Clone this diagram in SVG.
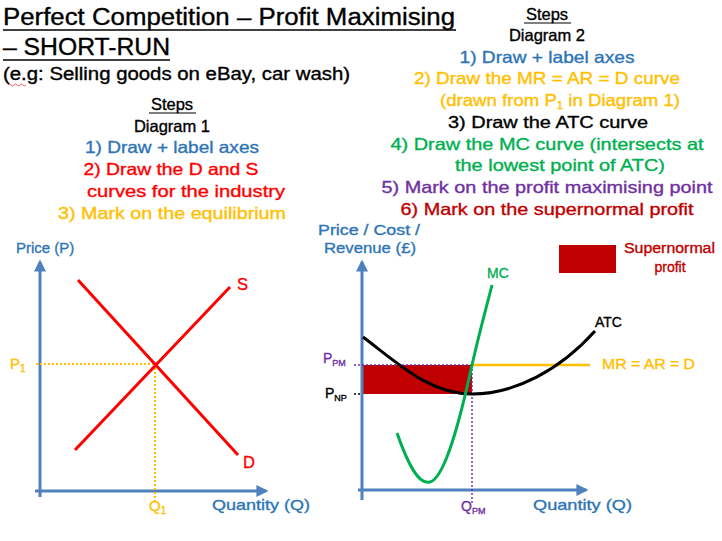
<svg xmlns="http://www.w3.org/2000/svg" width="722" height="541" viewBox="0 0 722 541">
<defs>
<style>
text{font-family:"Liberation Sans","Open Sans",sans-serif;stroke-width:0.35px;}
.t{font-size:23px;fill:#000;stroke:#000;}
.s{font-size:16.5px;}
.blue{fill:#2E75B6;stroke:#2E75B6;}
.ax{fill:#2E75B6;stroke:#2E75B6;font-size:15px;}
.yel{fill:#FFC000;stroke:#FFC000;}
.red{fill:#FF0000;stroke:#FF0000;}
.dred{fill:#C00000;stroke:#C00000;}
.grn{fill:#00B050;stroke:#00B050;}
.pur{fill:#7030A0;stroke:#7030A0;}
.blk{fill:#000;stroke:#000;}
.axis{stroke:#4F81BD;stroke-width:3;fill:none;}
</style>
<marker id="arr" viewBox="0 0 10 10" refX="8" refY="5" markerWidth="4" markerHeight="4" orient="auto"><path d="M0,0 L10,5 L0,10 z" fill="#4F81BD"/></marker>
</defs>
<rect width="722" height="541" fill="#fff"/>

<g id="title">
<text class="t" x="3" y="25" textLength="452" lengthAdjust="spacingAndGlyphs">Perfect Competition – Profit Maximising</text>
<line x1="3" y1="30" x2="456" y2="30" stroke="#000" stroke-width="1.5"/>
<text class="t" x="3" y="55" textLength="167" lengthAdjust="spacingAndGlyphs">– SHORT-RUN</text>
<line x1="3" y1="60" x2="170" y2="60" stroke="#000" stroke-width="1.5"/>
<text class="blk" x="3" y="80" textLength="347" lengthAdjust="spacingAndGlyphs" style="font-size:17.5px">(e.g: Selling goods on eBay, car wash)</text>
<path d="M8,85 q1.5,-2 3,0 t3,0 t3,0 t3,0 t3,0 t3,0" stroke="#E04040" stroke-width="0.8" fill="none"/>
</g>

<g id="steps2" text-anchor="middle">
<text class="s blk" x="547" y="20">Steps</text>
<line x1="524" y1="23" x2="571" y2="23" stroke="#000" stroke-width="1.2"/>
<text class="s blk" x="547" y="41">Diagram 2</text>
<text class="s blue" x="547" y="63" textLength="175" lengthAdjust="spacingAndGlyphs">1)  Draw + label axes</text>
<text class="s yel" x="547" y="84" textLength="266" lengthAdjust="spacingAndGlyphs">2)  Draw the MR = AR = D curve</text>
<text class="s yel" x="560" y="106" textLength="240" lengthAdjust="spacingAndGlyphs">(drawn from P<tspan font-size="10" dy="3">1</tspan><tspan dy="-3"> in Diagram 1)</tspan></text>
<text class="s blk" x="548" y="128" textLength="200" lengthAdjust="spacingAndGlyphs">3)  Draw the ATC curve</text>
<text class="s grn" x="547" y="150" textLength="313" lengthAdjust="spacingAndGlyphs">4)  Draw the MC curve (intersects at</text>
<text class="s grn" x="560" y="171" textLength="210" lengthAdjust="spacingAndGlyphs">the lowest point of ATC)</text>
<text class="s pur" x="547" y="193" textLength="331" lengthAdjust="spacingAndGlyphs">5)  Mark on the profit maximising point</text>
<text class="s dred" x="547" y="215" textLength="293" lengthAdjust="spacingAndGlyphs">6)  Mark on the supernormal profit</text>
</g>

<g id="steps1" text-anchor="middle">
<text class="s blk" x="172" y="110">Steps</text>
<line x1="149" y1="113" x2="196" y2="113" stroke="#000" stroke-width="1.2"/>
<text class="s blk" x="172" y="132">Diagram 1</text>
<text class="s blue" x="172" y="153" textLength="174" lengthAdjust="spacingAndGlyphs">1)  Draw + label axes</text>
<text class="s red" x="171" y="175" textLength="175" lengthAdjust="spacingAndGlyphs">2)  Draw the D and S</text>
<text class="s red" x="186" y="197" textLength="198" lengthAdjust="spacingAndGlyphs">curves for the industry</text>
<text class="s yel" x="172" y="219" textLength="228" lengthAdjust="spacingAndGlyphs">3)  Mark on the equilibrium</text>
</g>

<g id="diagram1">
<line class="axis" x1="40" y1="497" x2="40" y2="262" marker-end="url(#arr)"/>
<line class="axis" x1="35" y1="491" x2="266" y2="491" marker-end="url(#arr)"/>
<text class="ax" x="16" y="253">Price (P)</text>
<text class="ax" x="212" y="510" textLength="98" lengthAdjust="spacingAndGlyphs">Quantity (Q)</text>
<line x1="36" y1="364" x2="155" y2="364" stroke="#FFC000" stroke-width="2" stroke-dasharray="2,2"/>
<line x1="155" y1="364" x2="155" y2="503" stroke="#FFC000" stroke-width="2" stroke-dasharray="2,2"/>
<line x1="75" y1="450" x2="230" y2="287" stroke="#FF0000" stroke-width="3"/>
<line x1="78" y1="280" x2="238" y2="455" stroke="#FF0000" stroke-width="3"/>
<text class="s red" x="237" y="290">S</text>
<text class="s red" x="243" y="468">D</text>
<text class="yel" x="10" y="369" font-size="15">P<tspan font-size="10" dy="3">1</tspan></text>
<text class="yel" x="149" y="511" font-size="15">Q<tspan font-size="10" dy="3">1</tspan></text>
</g>

<g id="diagram2">
<rect x="363" y="365" width="109" height="29" fill="#C00000"/>
<line class="axis" x1="362" y1="500" x2="362" y2="262" marker-end="url(#arr)"/>
<line class="axis" x1="358" y1="490" x2="586" y2="490" marker-end="url(#arr)"/>
<text class="ax" x="318" y="235" textLength="102" lengthAdjust="spacingAndGlyphs">Price / Cost /</text>
<text class="ax" x="324" y="253" textLength="92" lengthAdjust="spacingAndGlyphs">Revenue (£)</text>
<text class="ax" x="533" y="510" textLength="99" lengthAdjust="spacingAndGlyphs">Quantity (Q)</text>
<line x1="472" y1="365" x2="590" y2="365" stroke="#FFC000" stroke-width="2.5"/>
<line x1="354" y1="365" x2="472" y2="365" stroke="#7030A0" stroke-width="1.5" stroke-dasharray="2,2"/>
<line x1="354" y1="394" x2="362" y2="394" stroke="#000" stroke-width="1.5" stroke-dasharray="2,2"/>
<line x1="472" y1="365" x2="472" y2="504" stroke="#7030A0" stroke-width="1.5" stroke-dasharray="2,2"/>
<path d="M363,337 C400,365 430,394 472,394 C515,394 560,370 595,331" stroke="#000" stroke-width="3" fill="none"/>
<path d="M397,433 C410,470 420,485 430,482 C445,478 460,420 472,365 C480,330 487,305 492,285" stroke="#00B050" stroke-width="3" fill="none"/>
<text class="grn" x="487" y="278" font-size="14">MC</text>
<text class="blk" x="595" y="327" font-size="14">ATC</text>
<text class="yel" x="602" y="369" font-size="14" textLength="93" lengthAdjust="spacingAndGlyphs">MR = AR = D</text>
<text class="pur" x="323" y="363" font-size="14">P<tspan font-size="9" dy="3">PM</tspan></text>
<text class="blk" x="325" y="398" font-size="14">P<tspan font-size="9" dy="3">NP</tspan></text>
<text class="pur" x="461" y="511" font-size="14">Q<tspan font-size="9" dy="3">PM</tspan></text>
</g>

<g id="legend">
<rect x="559" y="245" width="57" height="28" fill="#C00000"/>
<text class="dred" x="624" y="253" font-size="14" textLength="91" lengthAdjust="spacingAndGlyphs">Supernormal</text>
<text class="dred" x="670" y="272" font-size="14" text-anchor="middle">profit</text>
</g>
</svg>
